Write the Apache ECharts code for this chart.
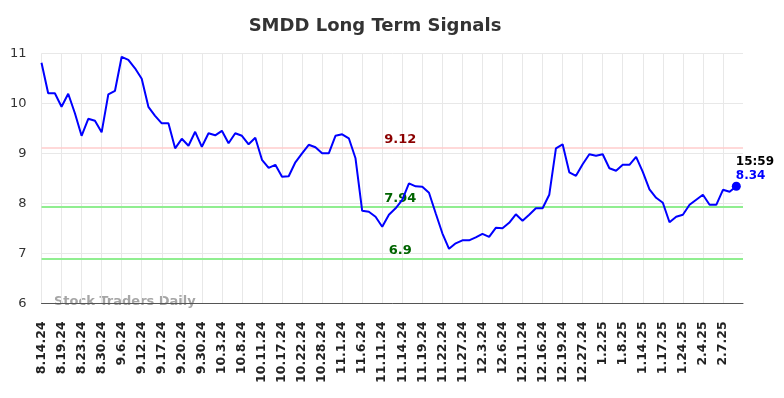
<!DOCTYPE html>
<html>
<head>
<meta charset="utf-8">
<script src="https://cdn.jsdelivr.net/npm/echarts@6/dist/echarts.min.js"></script>
<style>
html,body{margin:0;padding:0;background:#fff;}
#chart{width:784px;height:398px;}
</style>
</head>
<body>
<div id="chart"></div>
<script>
const tickLabels = ['8.14.24','8.19.24','8.23.24','8.30.24','9.6.24','9.12.24','9.17.24','9.20.24','9.30.24','10.3.24','10.8.24','10.11.24','10.17.24','10.22.24','10.28.24','11.1.24','11.6.24','11.11.24','11.14.24','11.19.24','11.22.24','11.27.24','12.3.24','12.6.24','12.11.24','12.16.24','12.19.24','12.27.24','1.2.25','1.8.25','1.14.25','1.17.25','1.24.25','2.4.25','2.7.25'];
const labelStep = 3;
const prices = [10.81,10.20,10.20,9.93,10.19,9.80,9.35,9.69,9.65,9.42,
10.18,10.25,10.93,10.87,10.70,10.49,9.93,9.75,9.60,9.60,
9.10,9.29,9.15,9.43,9.13,9.40,9.36,9.45,9.20,9.40,
9.35,9.18,9.31,8.87,8.71,8.77,8.53,8.54,8.82,9.00,
9.17,9.12,9.00,9.00,9.35,9.38,9.30,8.90,7.85,7.83,
7.73,7.53,7.77,7.90,8.07,8.40,8.34,8.33,8.21,7.80,
7.40,7.09,7.20,7.26,7.26,7.32,7.39,7.33,7.51,7.50,
7.61,7.78,7.65,7.77,7.90,7.90,8.17,9.10,9.18,8.62,
8.55,8.78,8.98,8.95,8.98,8.70,8.65,8.77,8.77,8.93,
8.63,8.28,8.11,8.01,7.62,7.73,7.77,7.97,8.07,8.17,
7.97,7.97,8.27,8.23,8.34];
const resistance = 9.12;
const supports = [7.94, 6.9];
const lastTime = '15:59';
const yTicks = [6, 7, 8, 9, 10, 11];

const n = prices.length;
const categories = [];
for (let i = 0; i <= n; i++) {
  categories.push(i % labelStep === 0 && tickLabels[i / labelStep] ? tickLabels[i / labelStep] : '');
}
const lastIdx = n - 1;
const lastVal = prices[lastIdx];
const FONT = 'DejaVu Sans';

const chart = echarts.init(document.getElementById('chart'), null, {renderer: 'canvas'});
chart.setOption({
  animation: false,
  backgroundColor: '#ffffff',
  graphic: [
    {type: 'text', z: 10, position: [375, 26],
     style: {text: 'SMDD Long Term Signals', fontFamily: FONT, fontSize: 18, fontWeight: 'bold', fill: '#333333', textAlign: 'center', textVerticalAlign: 'middle'}},
    {type: 'text', z: 0, position: [54, 302],
     style: {text: 'Stock Traders Daily', fontFamily: FONT, fontSize: 13, fontWeight: 'bold', fill: '#a6a6a6', textAlign: 'left', textVerticalAlign: 'middle'}}
  ],
  grid: {left: 41.5, right: 41, top: 53.3, bottom: 94.7, containLabel: false},
  xAxis: {
    type: 'category',
    data: categories,
    boundaryGap: false,
    axisLine: {show: true, lineStyle: {color: '#555555', width: 1}},
    axisTick: {show: false},
    axisLabel: {interval: 0, rotate: 90, margin: 18, fontFamily: FONT, fontSize: 12.5, fontWeight: 'bold', color: '#222222'},
    splitLine: {show: true, interval: function (idx) { return idx % labelStep === 0 && idx < n; }, lineStyle: {color: '#e8e8e8', width: 1}}
  },
  yAxis: {
    type: 'value',
    min: yTicks[0],
    max: yTicks[yTicks.length - 1],
    interval: 1,
    axisLine: {show: false},
    axisTick: {show: false},
    axisLabel: {margin: 15, fontFamily: FONT, fontSize: 13, color: '#333333'},
    splitLine: {show: true, lineStyle: {color: '#e8e8e8', width: 1}}
  },
  series: [{
    type: 'line',
    data: prices,
    showSymbol: false,
    symbol: 'none',
    lineStyle: {color: '#0000ff', width: 2},
    z: 5,
    markLine: {
      silent: true,
      symbol: ['none', 'none'],
      data: [
        {yAxis: resistance, lineStyle: {color: '#ffcccc', width: 1.5, type: 'solid'},
         label: {show: true, position: 'middle', distance: 1, padding: [0, 0, 0, 16], formatter: String(resistance), color: '#8b0000', fontFamily: FONT, fontSize: 13, fontWeight: 'bold'}},
        {yAxis: supports[0], lineStyle: {color: '#90ee90', width: 2, type: 'solid'},
         label: {show: true, position: 'middle', distance: 1, padding: [0, 0, 0, 16], formatter: String(supports[0]), color: '#006400', fontFamily: FONT, fontSize: 13, fontWeight: 'bold'}},
        {yAxis: supports[1], lineStyle: {color: '#90ee90', width: 2, type: 'solid'},
         label: {show: true, position: 'middle', distance: 1, padding: [0, 0, 0, 16], formatter: String(supports[1]), color: '#006400', fontFamily: FONT, fontSize: 13, fontWeight: 'bold'}}
      ]
    },
    markPoint: {
      silent: true,
      symbol: 'circle',
      symbolSize: 9,
      itemStyle: {color: '#0000ff'},
      data: [{coord: [lastIdx, lastVal]}],
      label: {
        show: true,
        position: [4, 1],
        align: 'left',
        verticalAlign: 'bottom',
        formatter: '{t|' + lastTime + '}\n{v|' + lastVal.toFixed(2) + '}',
        rich: {
          t: {fontFamily: FONT, fontSize: 12, fontWeight: 'bold', color: '#000000', lineHeight: 14},
          v: {fontFamily: FONT, fontSize: 12, fontWeight: 'bold', color: '#0000ff', lineHeight: 14}
        }
      }
    }
  }]
});
</script>
</body>
</html>
